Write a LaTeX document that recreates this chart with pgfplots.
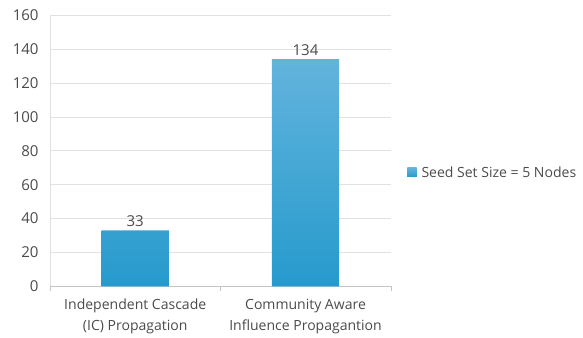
\documentclass[border=0pt]{standalone}
\usepackage{pgfplots}
\pgfplotsset{compat=1.18}
\usepackage{fontspec}
\setmainfont{Open Sans}
\definecolor{txt}{RGB}{75,75,75}
\definecolor{bartop}{RGB}{98,180,220}
\definecolor{barbot}{RGB}{38,154,205}
\definecolor{gridc}{RGB}{225,225,225}
\begin{document}
\begin{tikzpicture}
\begin{axis}[
  scale only axis,
  width=340pt, height=271pt,
  ymin=0, ymax=160,
  ytick={0,20,...,160},
  xmin=-0.5, xmax=1.5,
  xtick={0,1},
  xticklabels={{Independent Cascade\\(IC) Propagation},{Community Aware\\Influence Propagantion}},
  x tick label style={align=center, text=txt, font=\fontsize{14}{21}\selectfont, yshift=-9pt},
  y tick label style={text=txt, font=\fontsize{15}{17}\selectfont, xshift=-8pt},
  /pgf/number format/assume math mode=true,
  major tick length=0pt,
  extra x ticks={-0.5,0.5,1.5},
  extra x tick labels={},
  extra x tick style={major tick length=5pt, tick style={draw=gridc!70!gray}, tick align=outside, grid=none},
  ymajorgrids,
  grid style={draw=gridc, line width=0.6pt},
  axis x line*=bottom,
  axis y line*=left,
  x axis line style={draw=gridc!70!gray, -},
  y axis line style={draw=gridc, -},
  ybar, bar width=67pt,
  clip=false,
  nodes near coords,
  nodes near coords style={text=txt, font=\fontsize{15}{17}\selectfont},
  legend style={at={(1.04,0.42)}, anchor=west, draw=none, fill=none,
    font=\fontsize{14}{16}\selectfont, text=txt},
  legend image code/.code={\fill[barbot!85!bartop] (0pt,-4.5pt) rectangle (9pt,4.5pt);},
]
\addplot[draw=none, top color=bartop, bottom color=barbot] coordinates {(0,33) (1,134)};
\addlegendentry{\hspace{3pt}Seed Set Size = 5 Nodes}
\path[draw=none] ([xshift=-50pt,yshift=-51pt]rel axis cs:0,0) rectangle ([xshift=192pt,yshift=15pt]rel axis cs:1,1);
\end{axis}
\end{tikzpicture}
\end{document}
